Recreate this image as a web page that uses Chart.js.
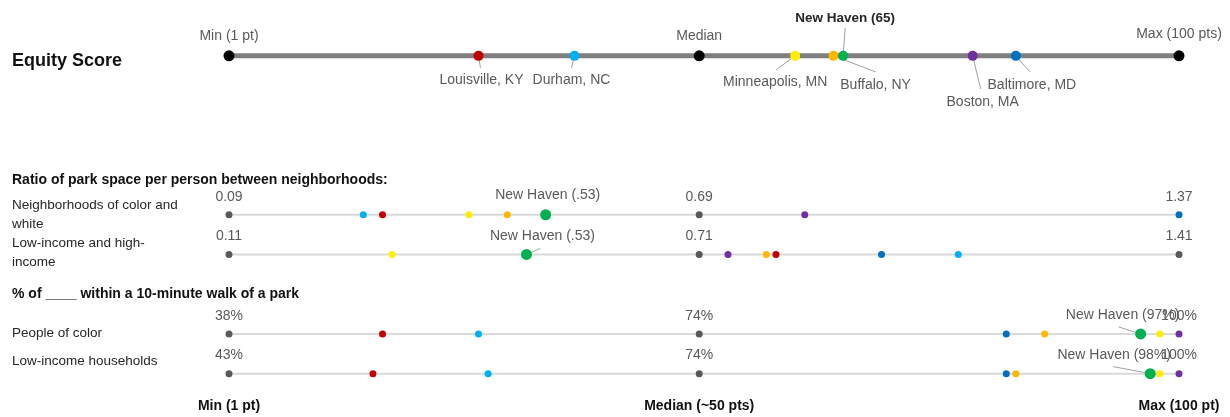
<!DOCTYPE html>
<html>
<head>
<meta charset="utf-8">
<script src="https://cdn.jsdelivr.net/npm/chart.js@4.4.1/dist/chart.umd.min.js"></script>
<style>
  body { margin: 0; background: #fff; }
  canvas { display: block; }
</style>
</head>
<body>
<canvas id="chart" width="1230" height="417"></canvas>
<script>
// rows of the chart, top to bottom (gaps are empty slots)
const rowKeys = ['equity', 'gap1', 'gap2', 'gap3', 'ratioColor', 'ratioIncome', 'gap4', 'walkColor', 'walkIncome'];
const metricRows = ['equity', 'ratioColor', 'ratioIncome', 'walkColor', 'walkIncome'];

// scores (1-100 pts) per metric row, same order as metricRows
const cities = ['Louisville, KY', 'Durham, NC', 'Minneapolis, MN', 'Buffalo, NY', 'New Haven', 'Boston, MA', 'Baltimore, MD'];
const louisville = [27, 17, 58, 17, 16];
const durham = [37, 15, 77, 27, 28];
const minneapolis = [60, 26, 18, 98, 98];
const buffalo = [64, 30, 57, 86, 83];
const newHaven = [65, 34, 32, 96, 97];
const boston = [78.5, 61, 53, 100, 100];
const baltimore = [83, 100, 69, 82, 82];

// reference marks (min / median / max) per row
const refPoints = [[1, 50, 100], [1, 50], [1, 50, 100], [1, 50], [1, 50]];
const minLabels = ['Min (1 pt)', '0.09', '0.11', '38%', '43%'];
const medianLabels = ['Median', '0.69', '0.71', '74%', '74%'];
const maxLabels = ['Max (100 pts)', '1.37', '1.41', '100%', '100%'];
const newHavenLabels = ['New Haven (65)', 'New Haven (.53)', 'New Haven (.53)', 'New Haven (97%)', 'New Haven (98%)'];

const axisTicks = [1, 50, 100];
const axisLabels = ['Min (1 pt)', 'Median (~50 pts)', 'Max (100 pt)'];

const rowNames = [['Equity Score'], ['Neighborhoods of color and', 'white'], ['Low-income and high-', 'income'], ['People of color'], ['Low-income households']];
const sectionTitles = ['Ratio of park space per person between neighborhoods:', '% of ____ within a 10-minute walk of a park'];

const cityValues = [louisville, durham, minneapolis, buffalo, newHaven, boston, baltimore];
const cityColors = ['#c00000', '#00b0f0', '#ffee00', '#ffb800', '#00b050', '#7030a0', '#0070c0'];

const GRAY_TEXT = '#595959';
const LEADER = '#a0a0a0';

const toPoints = vals => metricRows.map((r, i) => ({ x: vals[i], y: r }));

const datasets = [];

// track lines
metricRows.forEach(r => {
    datasets.push({
        data: [{ x: 1, y: r }, { x: 100, y: r }],
        showLine: true,
        borderColor: r === 'equity' ? '#7f7f7f' : '#d9d9d9',
        borderWidth: r === 'equity' ? 5 : 2,
        pointRadius: 0,
        clip: false,
        order: 10
    });
});

// min / median / max dots
datasets.push({
    data: refPoints.flatMap((vals, i) => vals.map(v => ({ x: v, y: metricRows[i] }))),
    pointRadius: ctx => ctx.raw && ctx.raw.y === 'equity' ? 5.5 : 3.5,
    pointBackgroundColor: ctx => ctx.raw && ctx.raw.y === 'equity' ? '#000' : GRAY_TEXT,
    pointBorderWidth: 0,
    clip: false,
    order: 5
});

// cities
cityValues.forEach((vals, i) => {
    const isNH = cities[i] === 'New Haven';
    datasets.push({
        label: cities[i],
        data: toPoints(vals),
        pointRadius: ctx => ctx.raw && ctx.raw.y === 'equity' ? 5 : (isNH ? 5.5 : 3.5),
        pointBackgroundColor: cityColors[i],
        pointBorderWidth: 0,
        clip: false,
        order: isNH ? 1 : 2
    });
});

// label offsets for the equity row (text centre and leader end, relative to the dot)
const equityNotes = [
    { city: 0, dx: 3, dy: 24, lx: 2, ly: 12 },
    { city: 1, dx: -3, dy: 24, lx: -3, ly: 12 },
    { city: 2, dx: -20, dy: 26, lx: -19, ly: 14 },
    { city: 3, dx: 42, dy: 29, lx: 42, ly: 16 },
    { city: 5, dx: 10, dy: 46, lx: 8, ly: 33 },
    { city: 6, dx: 16, dy: 29, lx: 14, ly: 16 }
];
const nhNotes = [
    { dx: 2, dy: -38, lx: 2, ly: -28 },
    { dx: 2, dy: -20 },
    { dx: 16, dy: -18, lx: 14, ly: -6 },
    { dx: -18, dy: -19, lx: -22, ly: -7 },
    { dx: -36, dy: -18, lx: -37, ly: -7 }
];

function text(ctx, str, x, y, font, color, align) {
    ctx.font = font;
    ctx.fillStyle = color;
    ctx.textAlign = align || 'center';
    ctx.textBaseline = 'middle';
    ctx.fillText(str, x, y);
}

function leader(ctx, x1, y1, x2, y2) {
    ctx.beginPath();
    ctx.moveTo(x1, y1);
    ctx.lineTo(x2, y2);
    ctx.strokeStyle = LEADER;
    ctx.lineWidth = 1;
    ctx.stroke();
}

const notesPlugin = {
    id: 'notes',
    beforeDatasetsDraw(chart) {
        const { ctx, scales: { x, y } } = chart;
        ctx.save();
        const ey = y.getPixelForValue(rowKeys.indexOf('equity'));
        equityNotes.forEach(n => {
            const px = x.getPixelForValue(cityValues[n.city][0]);
            leader(ctx, px, ey, px + n.lx, ey + n.ly);
        });
        metricRows.forEach((r, i) => {
            const n = nhNotes[i];
            if (n.lx === undefined) return;
            const px = x.getPixelForValue(newHaven[i]);
            const py = y.getPixelForValue(rowKeys.indexOf(r));
            leader(ctx, px, py, px + n.lx, py + n.ly);
        });
        ctx.restore();
    },
    afterDraw(chart) {
        const { ctx, scales: { x, y } } = chart;
        ctx.save();
        const rowY = r => y.getPixelForValue(rowKeys.indexOf(r));
        const ann = '14px "Liberation Sans", Arial, sans-serif';

        // min / median / max labels above each row
        metricRows.forEach((r, i) => {
            const ly = rowY(r) - (i === 0 ? 20 : 18);
            text(ctx, minLabels[i], x.getPixelForValue(1), ly, ann, GRAY_TEXT);
            text(ctx, medianLabels[i], x.getPixelForValue(50), ly, ann, GRAY_TEXT);
            text(ctx, maxLabels[i], x.getPixelForValue(100), ly - (i === 0 ? 2 : 0), ann, GRAY_TEXT);
        });

        // New Haven labels
        metricRows.forEach((r, i) => {
            const n = nhNotes[i];
            const px = x.getPixelForValue(newHaven[i]);
            if (i === 0) {
                text(ctx, newHavenLabels[i], px + n.dx, rowY(r) + n.dy, 'bold 13.5px "Liberation Sans", Arial, sans-serif', '#262626');
            } else {
                text(ctx, newHavenLabels[i], px + n.dx, rowY(r) + n.dy, ann, GRAY_TEXT);
            }
        });

        // city labels on the equity row
        const ey = rowY('equity');
        equityNotes.forEach(n => {
            const px = x.getPixelForValue(cityValues[n.city][0]);
            text(ctx, cities[n.city], px + n.dx, ey + n.dy, ann, GRAY_TEXT);
        });

        // row names and section titles on the left
        const rowFont = '13.5px "Liberation Sans", Arial, sans-serif';
        const titleFont = 'bold 14px "Liberation Sans", Arial, sans-serif';
        text(ctx, rowNames[0][0], 12, ey + 5, 'bold 18px "Liberation Sans", Arial, sans-serif', '#111', 'left');
        text(ctx, sectionTitles[0], 12, rowY('ratioColor') - 35, titleFont, '#111', 'left');
        text(ctx, rowNames[1][0], 12, rowY('ratioColor') - 9, rowFont, '#262626', 'left');
        text(ctx, rowNames[1][1], 12, rowY('ratioColor') + 10, rowFont, '#262626', 'left');
        text(ctx, rowNames[2][0], 12, rowY('ratioIncome') - 11, rowFont, '#262626', 'left');
        text(ctx, rowNames[2][1], 12, rowY('ratioIncome') + 8, rowFont, '#262626', 'left');
        text(ctx, sectionTitles[1], 12, rowY('walkColor') - 39.5, titleFont, '#111', 'left');
        text(ctx, rowNames[3][0], 12, rowY('walkColor') - 1, rowFont, '#262626', 'left');
        text(ctx, rowNames[4][0], 12, rowY('walkIncome') - 12, rowFont, '#262626', 'left');
        ctx.restore();
    }
};

new Chart(document.getElementById('chart'), {
    type: 'scatter',
    data: { datasets },
    options: {
        responsive: false,
        animation: false,
        layout: { padding: { left: 229, right: 51, top: 36, bottom: 2.6 } },
        plugins: { legend: { display: false }, tooltip: { enabled: false } },
        scales: {
            x: {
                type: 'linear',
                min: 1,
                max: 100,
                afterBuildTicks: scale => { scale.ticks = axisTicks.map(v => ({ value: v })); },
                afterFit: scale => { scale.height = 20.9; },
                ticks: {
                    padding: 4,
                    color: '#111',
                    font: { family: '"Liberation Sans", Arial, sans-serif', size: 14, weight: 'bold' },
                    maxRotation: 0,
                    autoSkip: false,
                    callback: (v, i) => axisLabels[i]
                },
                grid: { display: false, drawTicks: false },
                border: { display: false }
            },
            y: {
                type: 'category',
                labels: rowKeys,
                offset: true,
                display: false
            }
        }
    },
    plugins: [notesPlugin]
});
</script>
</body>
</html>
